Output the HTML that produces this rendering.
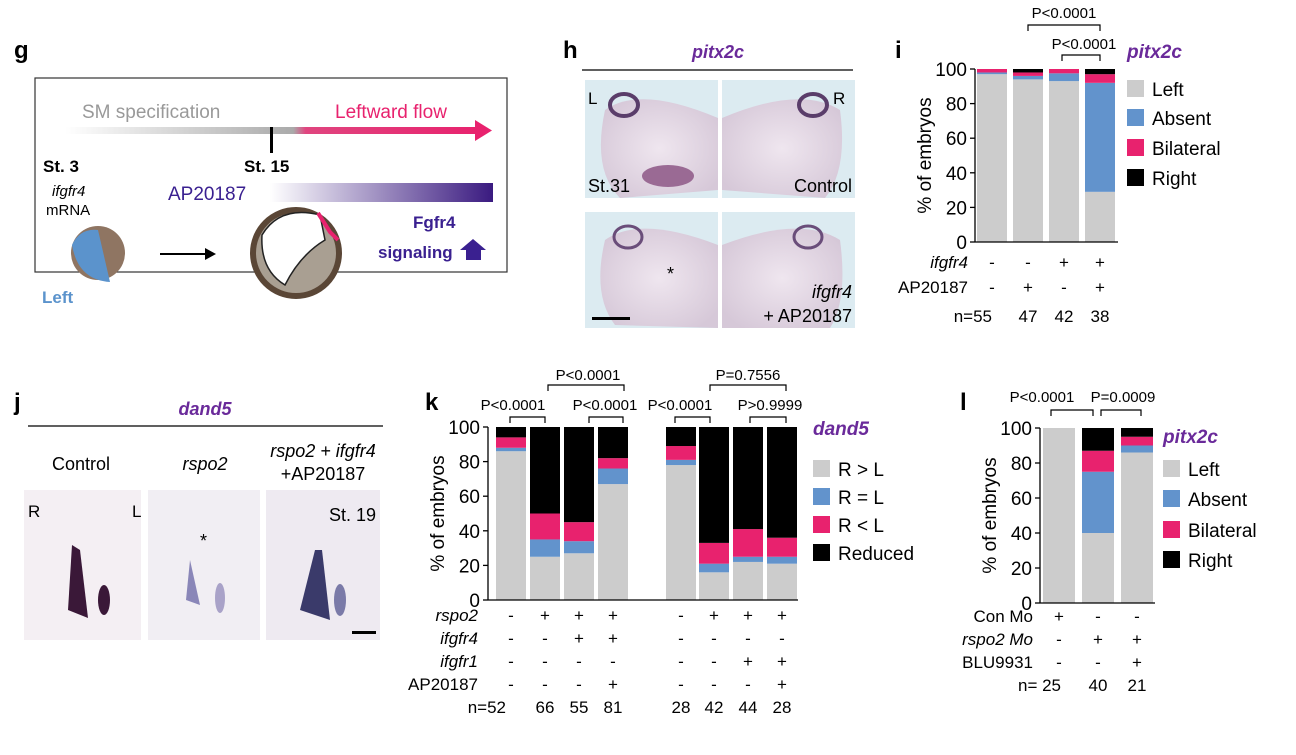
<!DOCTYPE html>
<html><head><meta charset="utf-8"><style>
body{margin:0;background:#fff;width:1296px;height:750px;overflow:hidden}
svg{font-family:"Liberation Sans",Arial,sans-serif}
</style></head><body>
<svg id="s" width="1296" height="750" viewBox="0 0 1296 750" xmlns="http://www.w3.org/2000/svg">
<defs>
<linearGradient id="gg" x1="0" x2="1"><stop offset="0" stop-color="#fff"/><stop offset="0.55" stop-color="#aaa"/><stop offset="0.58" stop-color="#e0457f"/><stop offset="1" stop-color="#e8226e"/></linearGradient>
<linearGradient id="pg" x1="0" x2="1"><stop offset="0" stop-color="#fff"/><stop offset="1" stop-color="#3a1a80"/></linearGradient>
<radialGradient id="ph" cx="0.5" cy="0.5" r="0.6"><stop offset="0" stop-color="#efe6ef"/><stop offset="1" stop-color="#d6c8d8"/></radialGradient>
</defs>
<!-- panel g -->
<g>
<text x="14" y="58" font-size="24" font-weight="bold">g</text>
<rect x="35" y="78" width="472" height="194" fill="none" stroke="#333" stroke-width="1.2"/>
<text x="82" y="118" font-size="19" fill="#999">SM specification</text>
<text x="335" y="118" font-size="19" fill="#e8226e">Leftward flow</text>
<rect x="65" y="127" width="415" height="7" fill="url(#gg)"/>
<polygon points="475,120 492,130.5 475,141" fill="#e8226e"/>
<rect x="270" y="127" width="3" height="26" fill="#000"/>
<text x="43" y="172" font-size="17" font-weight="bold">St. 3</text>
<text x="244" y="172" font-size="17" font-weight="bold">St. 15</text>
<text x="52" y="196" font-size="15" font-style="italic">ifgfr4</text>
<text x="46" y="215" font-size="15">mRNA</text>
<text x="168" y="200" font-size="19" fill="#3a2090">AP20187</text>
<rect x="270" y="183" width="223" height="19" fill="url(#pg)"/>
<text x="413" y="228" font-size="17" font-weight="bold" fill="#3a2090">Fgfr4</text>
<text x="378" y="258" font-size="17" font-weight="bold" fill="#3a2090">signaling</text>
<polygon points="473,239 486,250 481,250 481,260 466,260 466,250 460,250" fill="#3a2090"/>
<circle cx="98" cy="253" r="27" fill="#8f7562"/><path d="M72,245 Q80,228 98,230 L110,282 Q78,280 72,245Z" fill="#5b93cc"/>
<line x1="160" y1="254" x2="205" y2="254" stroke="#000" stroke-width="2"/><polygon points="205,248 216,254 205,260" fill="#000"/>
<circle cx="296" cy="253" r="43" fill="#a99f92" stroke="#5a4636" stroke-width="6"/>
<path d="M262,235 Q280,205 320,215 L325,240 Q300,255 285,285 Q260,270 262,235Z" fill="#fff" stroke="#222" stroke-width="1.5"/>
<path d="M318,213 L330,232 L338,240" stroke="#e8226e" stroke-width="4" fill="none"/>
<text x="42" y="303" font-size="17" font-weight="bold" fill="#5b93cc">Left</text>
</g>
<!-- panel h -->
<g>
<text x="563" y="58" font-size="24" font-weight="bold">h</text>
<text x="718" y="58" font-size="18" font-weight="bold" font-style="italic" fill="#6a2a9a" text-anchor="middle">pitx2c</text>
<line x1="582" y1="70" x2="853" y2="70" stroke="#000" stroke-width="1.2"/>
<rect x="585" y="80" width="133" height="118" fill="#dcebf1"/><rect x="722" y="80" width="133" height="118" fill="#dcebf1"/>
<rect x="585" y="212" width="133" height="116" fill="#dcebf1"/><rect x="722" y="212" width="133" height="116" fill="#dcebf1"/>
<path d="M605,110 Q640,85 718,118 L718,190 L620,198 Q592,170 605,110Z" fill="url(#ph)"/>
<path d="M722,118 Q800,85 840,110 Q848,170 825,198 L722,190Z" fill="url(#ph)"/>
<path d="M605,240 Q640,215 718,245 L718,328 L615,325 Q592,295 605,240Z" fill="url(#ph)"/>
<path d="M722,245 Q800,215 840,240 Q848,300 830,328 L722,328Z" fill="url(#ph)"/>
<ellipse cx="624" cy="105" rx="14" ry="11" fill="none" stroke="#5a3d6a" stroke-width="4"/>
<ellipse cx="813" cy="105" rx="14" ry="11" fill="none" stroke="#5a3d6a" stroke-width="4"/>
<ellipse cx="628" cy="237" rx="14" ry="11" fill="none" stroke="#6a4d7a" stroke-width="3"/>
<ellipse cx="808" cy="237" rx="14" ry="11" fill="none" stroke="#6a4d7a" stroke-width="3"/>
<ellipse cx="668" cy="176" rx="26" ry="11" fill="#9a6a94"/>
<text x="588" y="104" font-size="17">L</text><text x="833" y="104" font-size="17">R</text>
<text x="588" y="192" font-size="18">St.31</text><text x="852" y="192" font-size="18" text-anchor="end">Control</text>
<text x="667" y="280" font-size="18">*</text>
<text x="852" y="298" font-size="18" font-style="italic" text-anchor="end">ifgfr4</text>
<text x="852" y="322" font-size="18" text-anchor="end">+ AP20187</text>
<rect x="592" y="317" width="38" height="3" fill="#000"/>
</g>
<!-- panel j -->
<g>
<text x="14" y="410" font-size="24" font-weight="bold">j</text>
<text x="205" y="415" font-size="18" font-weight="bold" font-style="italic" fill="#6a2a9a" text-anchor="middle">dand5</text>
<line x1="28" y1="426" x2="383" y2="426" stroke="#000" stroke-width="1.2"/>
<text x="81" y="470" font-size="18" text-anchor="middle">Control</text>
<text x="205" y="470" font-size="18" font-style="italic" text-anchor="middle">rspo2</text>
<text x="323" y="457" font-size="18" font-style="italic" text-anchor="middle">rspo2 + ifgfr4</text>
<text x="323" y="480" font-size="18" text-anchor="middle">+AP20187</text>
<rect x="24" y="490" width="117" height="150" fill="#f4eff3"/><rect x="148" y="490" width="112" height="150" fill="#f1eef3"/><rect x="266" y="490" width="114" height="150" fill="#eeeaf1"/>
<path d="M72,545 L68,610 L88,618 L80,550Z" fill="#3a1838"/><ellipse cx="104" cy="600" rx="6" ry="15" fill="#3a1838"/>
<path d="M190,560 L186,600 L200,605Z" fill="#8a86b8"/><ellipse cx="220" cy="598" rx="5" ry="15" fill="#a9a2c8"/>
<path d="M315,550 L300,610 L330,620 L322,550Z" fill="#3a3a6a"/><ellipse cx="340" cy="600" rx="6" ry="16" fill="#7a7aa8"/>
<text x="28" y="517" font-size="17">R</text><text x="132" y="517" font-size="17">L</text>
<text x="200" y="547" font-size="18">*</text>
<text x="376" y="521" font-size="18" text-anchor="end">St. 19</text>
<rect x="352" y="631" width="24" height="3" fill="#000"/>
</g>
<g id="charts"></g>
</svg>
<script>
// panel i data
const iCats=["c1","c2","c3","c4"];
const iLeft=[97,94,93,29];
const iAbsent=[1,2,4.5,63];
const iBilateral=[2,2,2.5,5];
const iRight=[0,2,0,3];
// panel k data
const kCats=["b1","b2","b3","b4","b5","b6","b7","b8"];
const kRgtL=[86,25,27,67,78,16,22,21];
const kReqL=[2,10,7,9,3,5,3,4];
const kRltL=[6,15,11,6,8,12,16,11];
const kReduced=[6,50,55,18,11,67,59,64];
// panel l data
const lCats=["m1","m2","m3"];
const lLeft=[100,40,86];
const lAbsent=[0,35,4];
const lBilateral=[0,12,5];
const lRight=[0,13,5];
const yTicks=[0,20,40,60,80,100];
const COLS=["#cccccc","#6293cc","#e8226e","#000000"];

const NS="http://www.w3.org/2000/svg";
const root=document.getElementById('charts');
function el(tag,attrs,parent,txt){const e=document.createElementNS(NS,tag);for(const k in attrs)e.setAttribute(k,attrs[k]);if(txt!==undefined)e.textContent=txt;(parent||root).appendChild(e);return e;}

function chart(name,cfg){
  const g=el('g',{});
  
  
  const y=v=>cfg.y0+(cfg.y100-cfg.y0)*v/100;
  cfg.series.forEach((ser,si)=>{
    cfg.xs.forEach((bx,bi)=>{
      let base=0;for(let k=0;k<si;k++)base+=cfg.series[k][bi];
      const v=ser[bi];if(v<=0)return;
      const r=el('rect',{x:bx,y:y(base+v),width:cfg.bw,height:y(base)-y(base+v),fill:COLS[si]},g);
      
      
    });
  });
  const ax=el('g',{},g);
  
  
  el('line',{x1:cfg.ax,y1:cfg.y0,x2:cfg.ax,y2:cfg.y100,stroke:'#000','stroke-width':1.3},ax);
  el('line',{x1:cfg.ax,y1:cfg.y0,x2:cfg.axEnd,y2:cfg.y0,stroke:'#000','stroke-width':1.3},ax);
  yTicks.forEach(t=>{
    el('line',{x1:cfg.ax-5,y1:y(t),x2:cfg.ax,y2:y(t),stroke:'#000','stroke-width':1.3},ax);
    const tl=el('text',{x:cfg.ax-8,y:y(t)+7,'font-size':19,'text-anchor':'end'},ax,String(t));
    
    
  });
  const yt=el('text',{transform:`translate(${cfg.ax-44},${(cfg.y0+cfg.y100)/2}) rotate(-90)`,'font-size':19,'text-anchor':'middle'},g,'% of embryos');
  
  
  const lg=el('g',{},g);
  
  
  el('text',{x:cfg.lx,y:cfg.titleY,'font-size':19,'font-weight':'bold','font-style':'italic',fill:'#6a2a9a'},lg,cfg.title);
  cfg.legend.forEach((t,i)=>{
    const cy=cfg.ly[i];
    el('rect',{x:cfg.lx,y:cy-9,width:17,height:17,fill:COLS[i]},lg);
    const le=el('text',{x:cfg.lx+25,y:cy+7,'font-size':19},lg,t);
    
    
  });
  cfg.rows.forEach(row=>{
    el('text',{x:cfg.rowLabelX,y:row.y,'font-size':17,'text-anchor':'end','font-style':row.it?'italic':'normal'},g,row.label);
    row.vals.forEach((v,i)=>{el('text',{x:cfg.xs[i]+cfg.bw/2,y:row.y,'font-size':17,'text-anchor':'middle'},g,v);});
  });
  cfg.brackets.forEach(b=>{
    el('path',{d:`M${b.x1},${b.y+6} V${b.y} H${b.x2} V${b.y+6}`,fill:'none',stroke:'#000','stroke-width':1.2},g);
    el('text',{x:b.tx,y:b.ty,'font-size':15,'text-anchor':'middle'},g,b.t);
  });
}

chart('chart-i-pitx2c',{y0:242,y100:69,ax:975,axEnd:1118,bw:30,xs:[977,1013,1049,1085],
 series:[iLeft,iAbsent,iBilateral,iRight],segNames:['left','absent','bilateral','right'],
 lx:1127,titleY:58,title:'pitx2c',legend:['Left','Absent','Bilateral','Right'],ly:[89,118,148,178],
 rowLabelX:968,rows:[{label:'ifgfr4',it:1,y:268,vals:['-','-','+','+']},{label:'AP20187',y:293,vals:['-','+','-','+']},{label:'n=55',y:322,vals:['','47','42','38']}],
 brackets:[{x1:1028,x2:1100,y:25,t:'P<0.0001',tx:1064,ty:18},{x1:1062,x2:1100,y:55,t:'P<0.0001',tx:1084,ty:49}]});
chart('chart-k-dand5',{y0:600,y100:427,ax:488,axEnd:798,bw:30,xs:[496,530,564,598,666,699,733,767],
 series:[kRgtL,kReqL,kRltL,kReduced],segNames:['r-gt-l','r-eq-l','r-lt-l','reduced'],
 lx:813,titleY:435,title:'dand5',legend:['R > L','R = L','R < L','Reduced'],ly:[469,497,525,553],
 rowLabelX:478,rows:[{label:'rspo2',it:1,y:621,vals:['-','+','+','+','-','+','+','+']},{label:'ifgfr4',it:1,y:644,vals:['-','-','+','+','-','-','-','-']},{label:'ifgfr1',it:1,y:667,vals:['-','-','-','-','-','-','+','+']},{label:'AP20187',y:690,vals:['-','-','-','+','-','-','-','+']},{label:'n=52',y:713,vals:['','66','55','81','28','42','44','28']}],
 brackets:[{x1:510,x2:545,y:417,t:'P<0.0001',tx:513,ty:410},{x1:548,x2:624,y:385,t:'P<0.0001',tx:588,ty:380},{x1:589,x2:623,y:417,t:'P<0.0001',tx:605,ty:410},{x1:675,x2:710,y:417,t:'P<0.0001',tx:680,ty:410},{x1:710,x2:786,y:385,t:'P=0.7556',tx:748,ty:380},{x1:750,x2:786,y:417,t:'P>0.9999',tx:770,ty:410}]});
chart('chart-l-pitx2c',{y0:603,y100:428,ax:1040,axEnd:1155,bw:32,xs:[1043,1082,1121],
 series:[lLeft,lAbsent,lBilateral,lRight],segNames:['left','absent','bilateral','right'],
 lx:1163,titleY:443,title:'pitx2c',legend:['Left','Absent','Bilateral','Right'],ly:[469,499,530,560],
 rowLabelX:1033,rows:[{label:'Con Mo',y:622,vals:['+','-','-']},{label:'rspo2 Mo',it:1,y:645,vals:['-','+','+']},{label:'BLU9931',y:668,vals:['-','-','+']},{label:'n= 25',y:691,vals:['','40','21']}],
 brackets:[{x1:1051,x2:1093,y:410,t:'P<0.0001',tx:1042,ty:402},{x1:1101,x2:1141,y:410,t:'P=0.0009',tx:1123,ty:402}]});
[['i',895,58],['k',425,410],['l',960,410]].forEach(([t,x,yy])=>{
  const e=el('text',{x:x,y:yy,'font-size':24,'font-weight':'bold'},root,t);
  
  
});
document.querySelectorAll('#charts text').forEach(t=>{
  if(/^n=/.test(t.textContent)){t.setAttribute('text-anchor','end');t.setAttribute('x',String(parseFloat(t.getAttribute('x'))+ (t.textContent==='n=52'?28:t.textContent==='n= 25'?28:24)));}
});
</script>
</body></html>
